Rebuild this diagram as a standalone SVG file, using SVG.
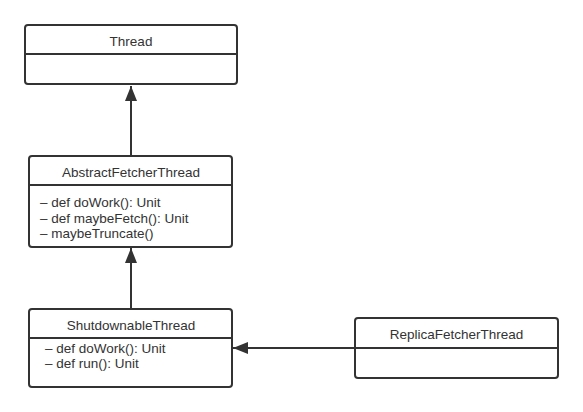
<svg xmlns="http://www.w3.org/2000/svg" width="583" height="412" viewBox="0 0 583 412">
<style>
.box{fill:#fff;stroke:#333;stroke-width:2}
.div{stroke:#333;stroke-width:2}
.t{font-family:"Liberation Sans",Arial,sans-serif;font-size:13.5px;fill:#333}
.c{text-anchor:middle}
.edge{stroke:#333;stroke-width:2;fill:none}
</style>
<defs>
<marker id="tri" markerUnits="userSpaceOnUse" markerWidth="16" markerHeight="12" refX="15" refY="6" orient="auto">
<path d="M0,0 L15,6 L0,12 Z" fill="#333"/>
</marker>
</defs>
<rect width="583" height="412" fill="#fff"/>
<g id="connectors">
<line class="edge" x1="131" y1="156" x2="131" y2="86" marker-end="url(#tri)"/>
<line class="edge" x1="131" y1="309" x2="131" y2="248" marker-end="url(#tri)"/>
<line class="edge" x1="356" y1="348" x2="233" y2="348" marker-end="url(#tri)"/>
</g>
<g id="Thread">
<rect class="box" x="25" y="25" width="212" height="59" rx="3"/>
<line class="div" x1="25" y1="54" x2="237" y2="54"/>
<text class="t c" x="131" y="46">Thread</text>
</g>
<g id="AbstractFetcherThread">
<rect class="box" x="29" y="156" width="203" height="91" rx="3"/>
<line class="div" x1="29" y1="185" x2="232" y2="185"/>
<text class="t c" x="131" y="177">AbstractFetcherThread</text>
<text class="t" x="40" y="207">– def doWork(): Unit</text>
<text class="t" x="40" y="223">– def maybeFetch(): Unit</text>
<text class="t" x="40" y="238">– maybeTruncate()</text>
</g>
<g id="ShutdownableThread">
<rect class="box" x="29" y="309" width="203" height="78" rx="3"/>
<line class="div" x1="29" y1="338" x2="232" y2="338"/>
<text class="t c" x="131" y="330">ShutdownableThread</text>
<text class="t" x="45" y="353">– def doWork(): Unit</text>
<text class="t" x="45" y="368">– def run(): Unit</text>
</g>
<g id="ReplicaFetcherThread">
<rect class="box" x="355" y="318" width="203" height="60" rx="3"/>
<line class="div" x1="355" y1="348" x2="558" y2="348"/>
<text class="t c" x="456.5" y="339">ReplicaFetcherThread</text>
</g>
</svg>
